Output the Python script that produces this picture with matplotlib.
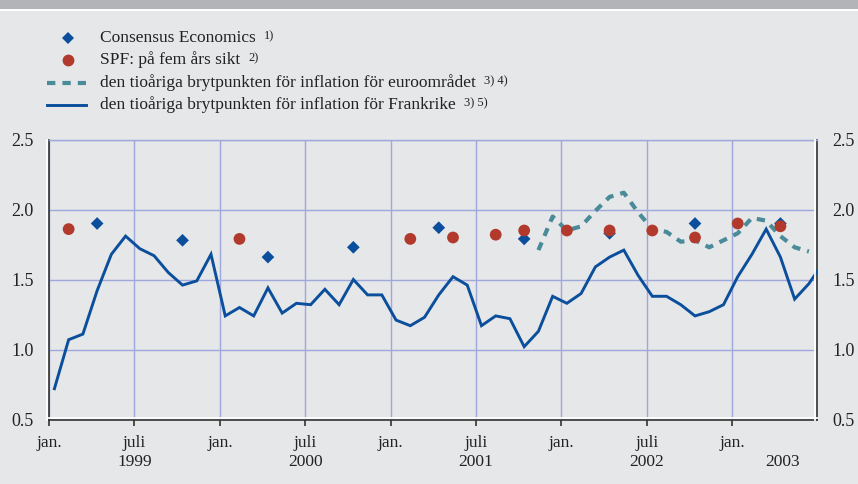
import matplotlib
matplotlib.use("Agg")
import matplotlib.pyplot as plt
import matplotlib.transforms as mtransforms
from matplotlib.lines import Line2D
from matplotlib.patches import Rectangle
import numpy as np

# ---------------- data (month index 0 = Jan 1999) ----------------
france_months = list(range(0, 55))
france_values = [0.72, 1.07, 1.11, 1.42, 1.68, 1.81, 1.72, 1.67, 1.55, 1.46,
                 1.49, 1.68, 1.24, 1.30, 1.24, 1.44, 1.26, 1.33, 1.32, 1.43,
                 1.32, 1.50, 1.39, 1.39, 1.21, 1.17, 1.23, 1.39, 1.52, 1.46,
                 1.17, 1.24, 1.22, 1.02, 1.13, 1.38, 1.33, 1.40, 1.59, 1.66,
                 1.71, 1.53, 1.38, 1.38, 1.32, 1.24, 1.27, 1.32, 1.52, 1.68,
                 1.86, 1.66, 1.36, 1.47, 1.62]

euro_months = list(range(34, 54))
euro_values = [1.71, 1.95, 1.85, 1.88, 1.99, 2.09, 2.12, 1.98, 1.86, 1.84,
               1.77, 1.78, 1.73, 1.78, 1.83, 1.94, 1.92, 1.81, 1.73, 1.70]

consensus_months = [3, 9, 15, 21, 27, 33, 39, 45, 51]
consensus_values = [1.90, 1.78, 1.66, 1.73, 1.87, 1.79, 1.83, 1.90, 1.90]

spf_months = [1, 13, 25, 28, 31, 33, 36, 39, 42, 45, 48, 51]
spf_values = [1.86, 1.79, 1.79, 1.80, 1.82, 1.85, 1.85, 1.85, 1.85, 1.80, 1.90, 1.88]

tick_months = [0, 6, 12, 18, 24, 30, 36, 42, 48]
tick_labels = ["jan.", "juli\n1999", "jan.", "juli\n2000", "jan.", "juli\n2001",
               "jan.", "juli\n2002", "jan."]
extra_year_label = "2003"
y_ticks = [0.5, 1.0, 1.5, 2.0, 2.5]

legend_labels = ["Consensus Economics", "SPF: på fem års sikt",
                 "den tioåriga brytpunkten för inflation för euroområdet",
                 "den tioåriga brytpunkten för inflation för Frankrike"]
legend_notes = ["1)", "2)", "3) 4)", "3) 5)"]

# ---------------- style ----------------
BG = "#e6e7e9"
BLUE = "#0b4f9c"
RED = "#b23a2c"
TEAL = "#4a8b99"
GRID = "#9ea8da"
DARK = "#333333"
TXT = "#222222"
FONT = "Liberation Serif"
FS = 12.5
OFF = 0.38  # mid-month position
LSP = 1.3

plt.rcParams["font.family"] = [FONT, "DejaVu Serif"]

W, H = 858, 484
fig = plt.figure(figsize=(W / 100, H / 100), dpi=100)
fig.patch.set_facecolor(BG)

# top band
fig.patches.append(Rectangle((0, 1 - 9 / H), 1, 9 / H, transform=fig.transFigure,
                             facecolor="#b3b4b7", edgecolor="none", zorder=0))
fig.patches.append(Rectangle((0, 1 - 11 / H), 1, 2 / H, transform=fig.transFigure,
                             facecolor="white", edgecolor="none", zorder=0))

L, R, T, B = 49, 817, 139.5, 419.5
ax = fig.add_axes([L / W, 1 - B / H, (R - L) / W, (B - T) / H])
ax.set_facecolor(BG)

xf = np.array(france_months) + OFF
ax.plot(xf, france_values, color=BLUE, lw=2.1, zorder=3, solid_joinstyle="miter")
xe = np.array(euro_months) + OFF
ax.plot(xe, euro_values, color=TEAL, lw=3.0, linestyle=(0, (2.0, 1.7)), zorder=3)
ax.scatter(np.array(consensus_months) + OFF, consensus_values, marker="D", s=42,
           color=BLUE, edgecolors="none", zorder=4)
ax.scatter(np.array(spf_months) + OFF, spf_values, marker="o", s=72,
           color=RED, edgecolors="none", zorder=5)

ax.set_xlim(0, 53.95)
ax.set_ylim(0.5, 2.5)

PAD = 7
ax.set_xticks(tick_months)
ax.set_xticklabels(tick_labels, fontsize=FS, linespacing=LSP, color=TXT)
ax.tick_params(axis="x", direction="out", length=4, width=1.2, color=DARK, pad=PAD)
ax.set_yticks(y_ticks)
ax.set_yticklabels([f"{v:.1f}" for v in y_ticks], fontsize=13, color=TXT)
ax.tick_params(axis="y", length=0, pad=11, labelleft=True, labelright=True)

ax.grid(True, color=GRID, lw=1.0, zorder=1)
ax.set_axisbelow(True)

for s in ["left", "bottom", "right"]:
    ax.spines[s].set_color(DARK)
    ax.spines[s].set_linewidth(1.2)
ax.spines["top"].set_color(GRID)
ax.spines["top"].set_linewidth(1.0)

# embossed white edges
def shifted(dx, dy):
    return ax.transAxes + mtransforms.ScaledTranslation(dx / 100, dy / 100, fig.dpi_scale_trans)

ax.add_line(Line2D([0, 0], [0, 1], transform=shifted(-1.6, 0), color="white", lw=1.3,
                   clip_on=False, zorder=6))
ax.add_line(Line2D([0, 1], [0, 0], transform=shifted(0, 1.6), color="white", lw=1.3,
                   clip_on=False, zorder=6))
ax.add_line(Line2D([1, 1], [0, 1], transform=shifted(-1.6, 0), color="white", lw=1.3,
                   clip_on=False, zorder=6))

# 2003 year label, aligned with the second line of the tick labels
year_tr = ax.get_xaxis_transform() + mtransforms.ScaledTranslation(
    0, -(4 + PAD) / 72, fig.dpi_scale_trans)
ax.text(51.5, 0, " \n" + extra_year_label, transform=year_tr,
        ha="center", va="top", fontsize=FS, linespacing=LSP, color=TXT)

# ---------------- legend (manual) ----------------
rows_y = [37.7, 60.0, 82.7, 105.0]
tx = 100
def fx(px):
    return px / W
def fy(py):
    return 1 - py / H

fig.add_artist(Line2D([fx(67.5)], [fy(rows_y[0])], marker="D", markersize=6.2,
                      color=BLUE, markeredgewidth=0, linestyle="none"))
fig.add_artist(Line2D([fx(67.5)], [fy(rows_y[1])], marker="o", markersize=8.5,
                      color=RED, markeredgewidth=0, linestyle="none"))
fig.add_artist(Line2D([fx(47), fx(86)], [fy(rows_y[2])] * 2, color=TEAL, lw=3.0,
                      linestyle=(0, (2.0, 1.7))))
fig.add_artist(Line2D([fx(47), fx(86)], [fy(rows_y[3])] * 2, color=BLUE, lw=2.1))

fig.canvas.draw()
renderer = fig.canvas.get_renderer()
for y, lab, note in zip(rows_y, legend_labels, legend_notes):
    t = fig.text(fx(tx), fy(y), lab, fontsize=FS, va="center", ha="left", color=TXT)
    bb = t.get_window_extent(renderer)
    fig.text((bb.x1 + 8) / W, (bb.y1 - 1) / H, note, fontsize=9, va="top",
             ha="left", color=TXT)

fig.savefig("out.png", dpi=100, facecolor=BG)
